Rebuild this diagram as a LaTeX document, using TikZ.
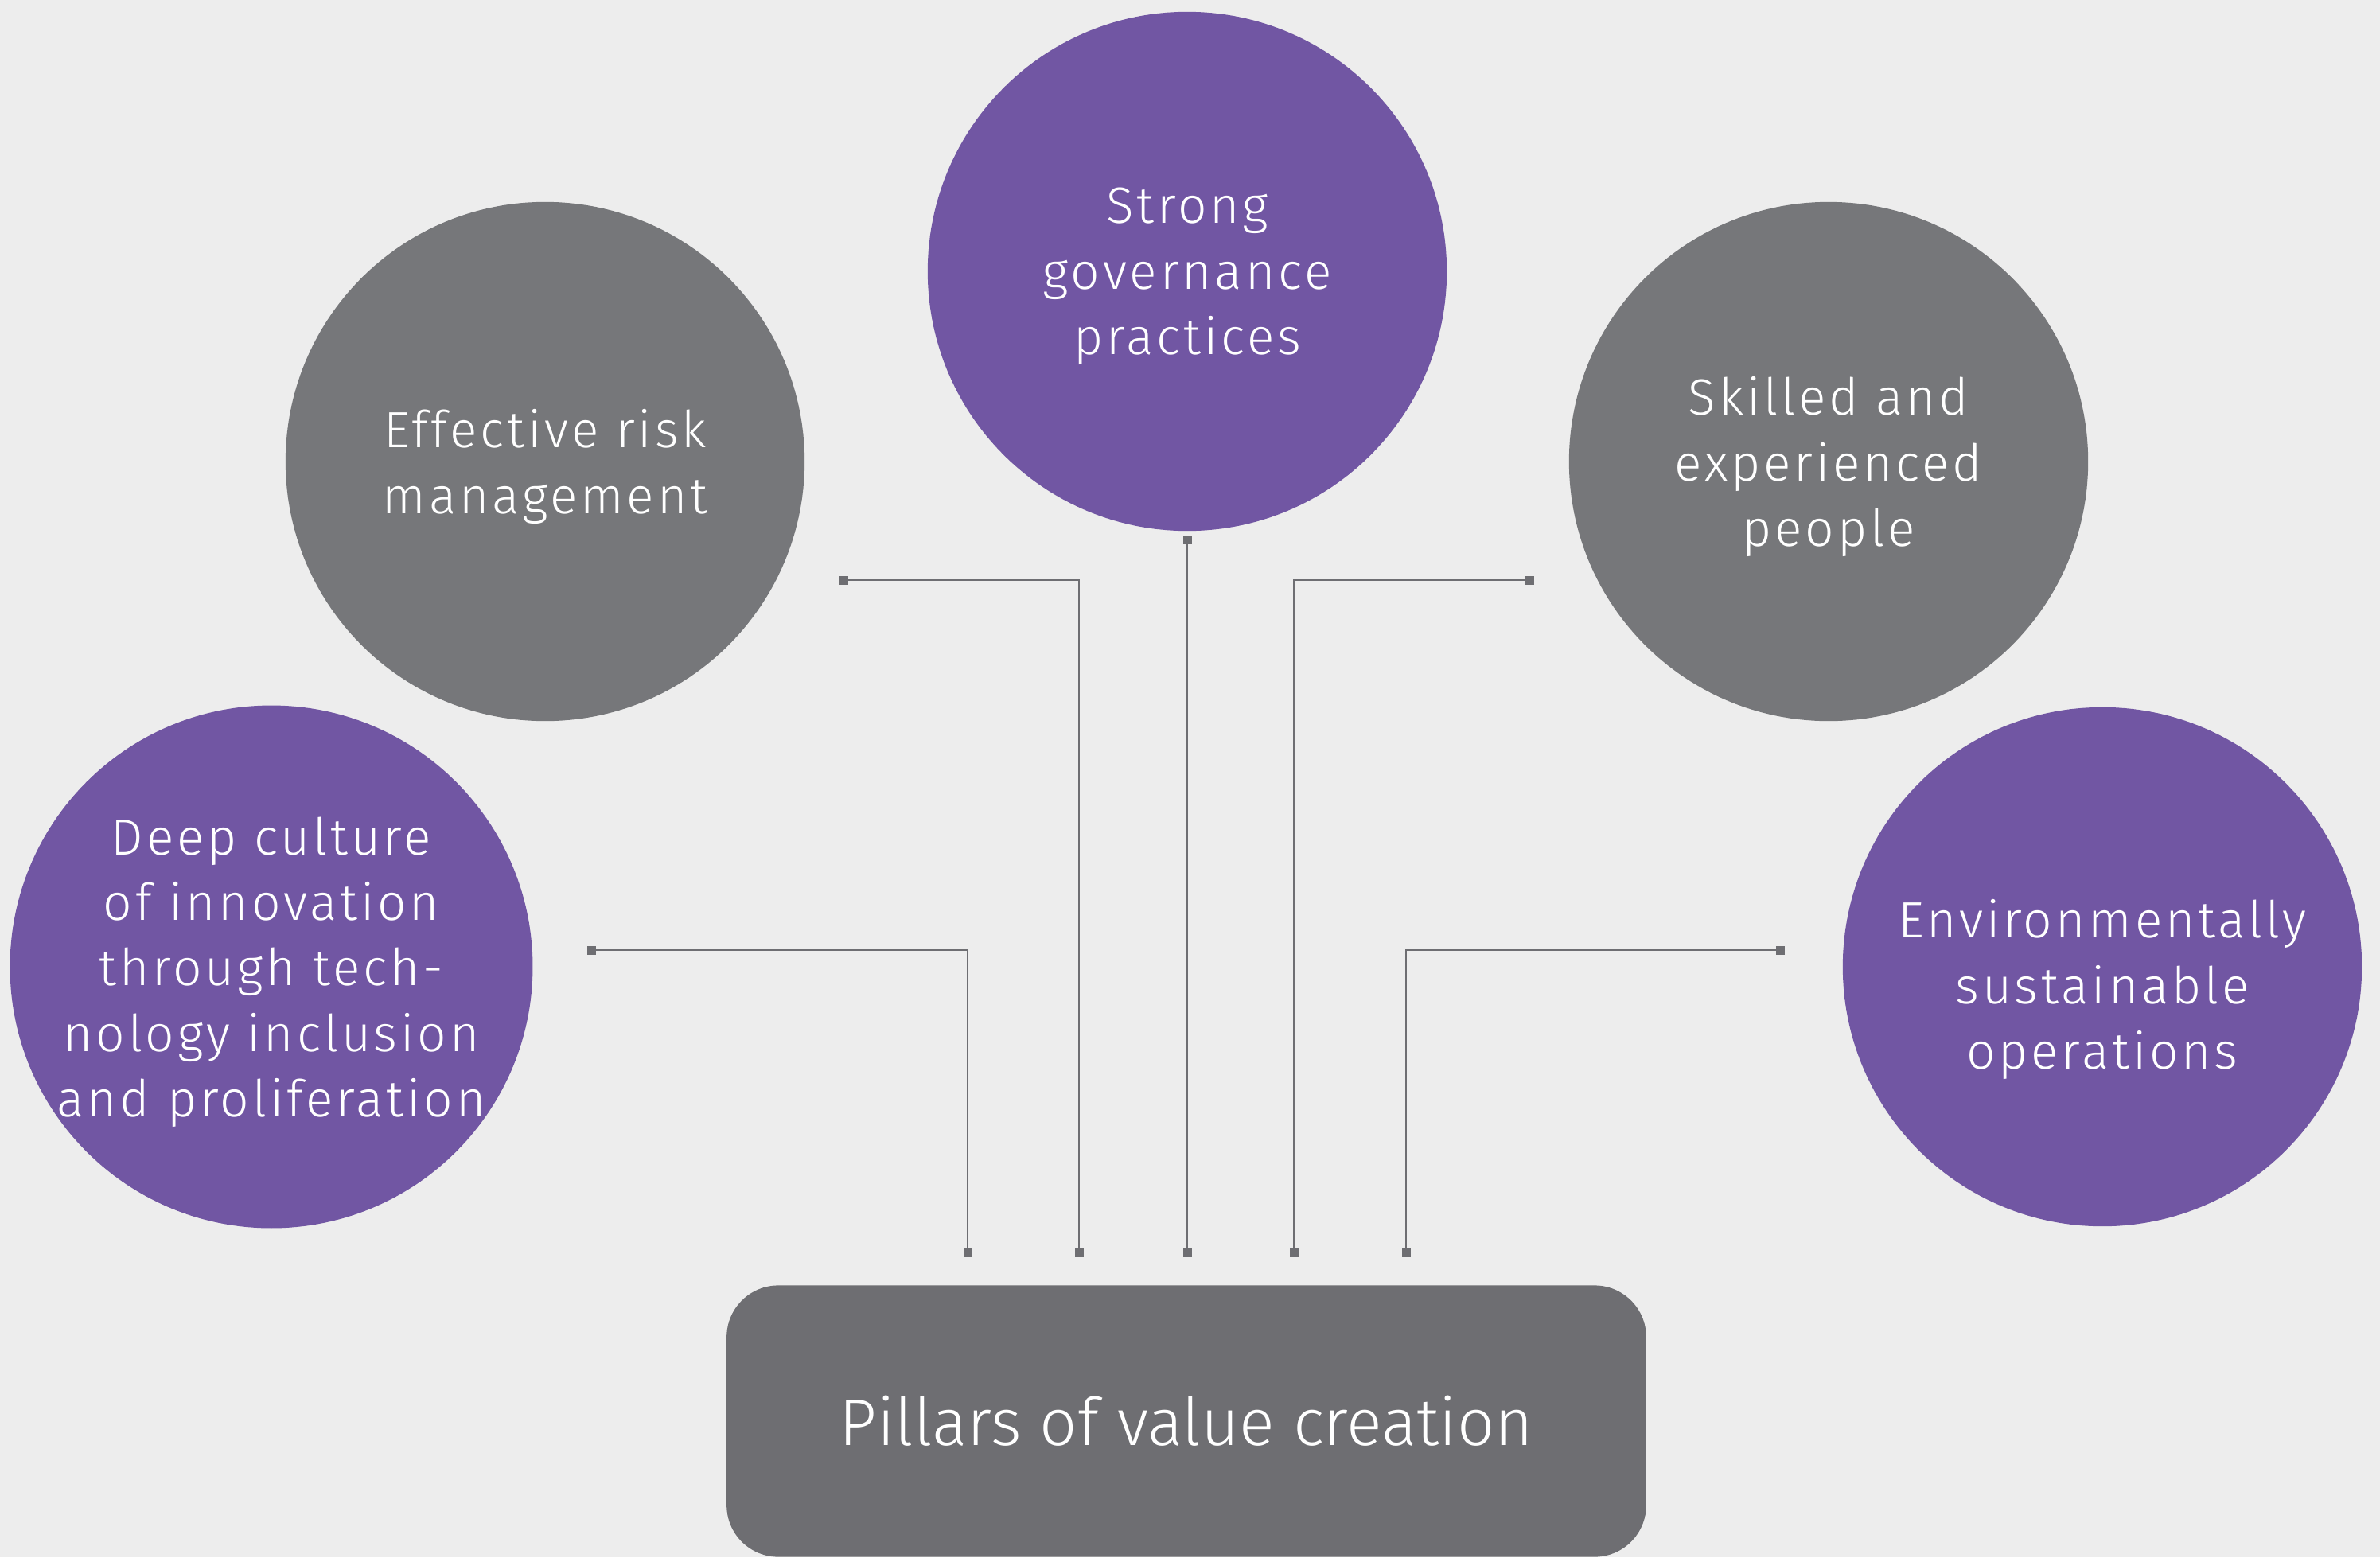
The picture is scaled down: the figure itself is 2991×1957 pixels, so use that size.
\documentclass[tikz,border=0pt]{standalone}
\usepackage{fontspec}
\setmainfont{Fira Sans Light}
\newfontfamily\pillarfont{Fira Sans Light}[LetterSpace=6]
\usetikzlibrary{arrows.meta,positioning}

\definecolor{pillarpurple}{RGB}{113,86,163}
\definecolor{pillargray}{RGB}{118,119,122}
\definecolor{basegray}{RGB}{110,110,114}
\definecolor{paper}{RGB}{237,237,237}

\tikzset{
  pillar/.style={circle, minimum size=6.52cm, inner sep=0pt, text=white,
    align=center, text depth=0pt, font=\pillarfont\fontsize{18.2}{23.4}\selectfont},
  purplepillar/.style={pillar, fill=pillarpurple},
  graypillar/.style={pillar, fill=pillargray},
  base/.style={rectangle, rounded corners=0.65cm, fill=basegray, text=white,
    minimum width=11.55cm, minimum height=3.41cm,
    font=\fontsize{23.6}{28}\selectfont},
  link/.style={draw=basegray, line width=0.6pt,
    {Square[length=1.1mm,width=1.1mm]}-{Square[length=1.1mm,width=1.1mm]}}
}

\begin{document}
\begin{tikzpicture}[x=0.01cm,y=-0.01cm]
  % background fixes the page size
  \fill[paper] (0,0) rectangle (2991,1957);

  \node[purplepillar] (gov) at (1492,341) {Strong\\governance\\practices};
  \node[graypillar] (risk) at (685,580) {Effective risk\\management};
  \node[graypillar] (skill) at (2298,580) {Skilled and\\experienced\\people};
  \node[purplepillar] (deep) at (341,1215) {Deep culture\\of innovation\\through tech-\\nology inclusion\\and proliferation};
  % text sits a bit low in this one
  \node[purplepillar, text height=73pt] (env) at (2642,1215) {Environmentally\\sustainable\\operations};

  \node[base] (pillars) at (1491,1786) {Pillars of value creation};

  % loose ends of the connectors
  \coordinate (deep-out) at (738,1194);
  \coordinate (risk-out) at (1055,729);
  \coordinate (gov-out) at (1492,673);
  \coordinate (skill-out) at (1928,729);
  \coordinate (env-out) at (2243,1194);

  \coordinate (deep-in) at (1216,1580);
  \coordinate (risk-in) at (1356,1580);
  \coordinate (gov-in) at (1492,1580);
  \coordinate (skill-in) at (1626,1580);
  \coordinate (env-in) at (1767,1580);

  \draw[link] (deep-out) -| (deep-in);
  \draw[link] (risk-out) -| (risk-in);
  \draw[link] (gov-out) -- (gov-in);
  \draw[link] (skill-out) -| (skill-in);
  \draw[link] (env-out) -| (env-in);
\end{tikzpicture}
\end{document}
